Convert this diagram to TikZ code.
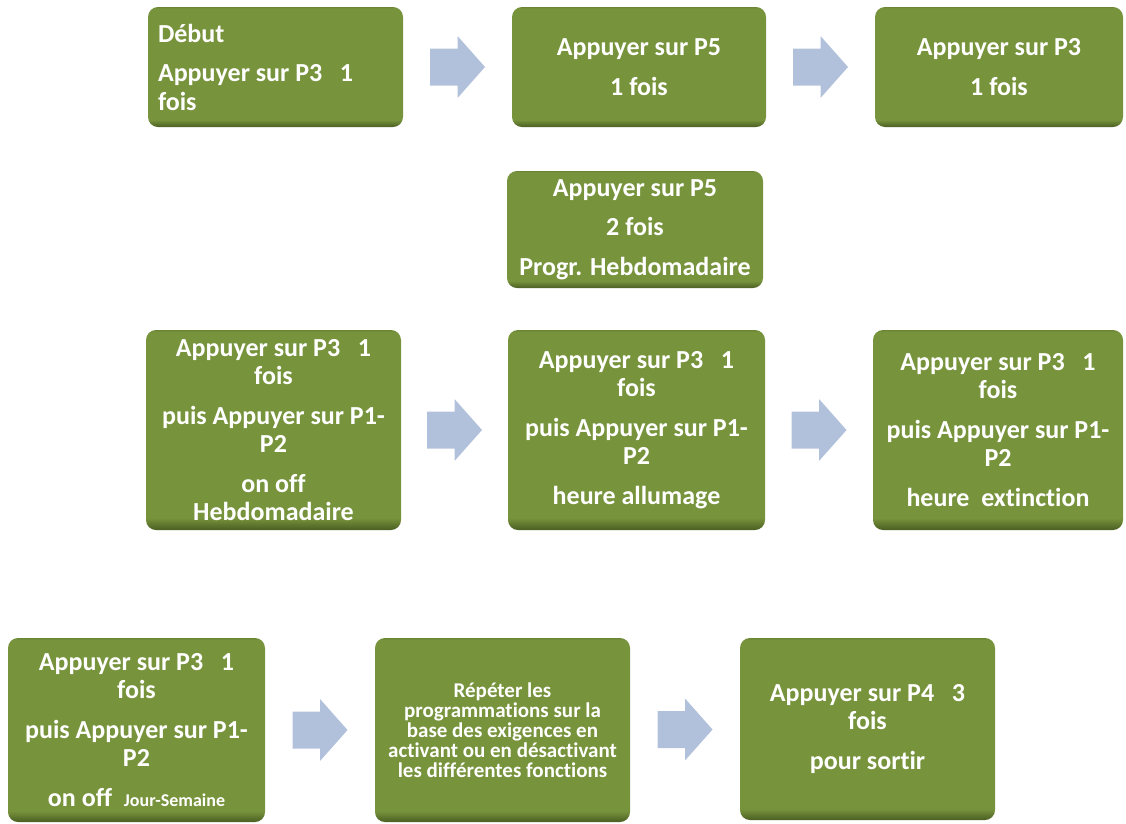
\documentclass[tikz,border=0pt]{standalone}
\usepackage{fontspec}
\setmainfont{Carlito}[Ligatures=NoCommon]
\usetikzlibrary{calc}
\definecolor{boxgreen}{HTML}{77933C}
\definecolor{boxdark}{HTML}{4A5E22}
\definecolor{boxtop}{HTML}{6B8535}
\definecolor{arrowblue}{HTML}{B2C1DB}
\pgfdeclareverticalshading{boxshade}{100bp}{color(0bp)=(boxdark); color(25bp)=(boxdark); color(28bp)=(boxgreen); color(74.5bp)=(boxgreen); color(75bp)=(boxtop); color(100bp)=(boxtop)}
\tikzset{
  stepbox/.style={rectangle, rounded corners=10pt, shading=boxshade, text=white,
    font=\fontsize{26}{28.5}\selectfont\bfseries, align=center, inner sep=0pt},
  smalltxt/.style={font=\fontsize{21}{20}\selectfont\bfseries},
  barrow/.pic={\fill[arrowblue] (-27.5,-18.5) -- (0,-18.5) -- (0,-31) -- (27.5,0) -- (0,31) -- (0,18.5) -- (-27.5,18.5) -- cycle;}
}
\newcommand{\gap}{\\[11pt]}
\begin{document}
\begin{tikzpicture}[x=1pt,y=-1pt]
\useasboundingbox (0,0) rectangle (1126,823);
% row 1
\node[stepbox, minimum width=255pt, minimum height=120pt, text width=235pt, align=flush left] (b1) at (275.5,67)
  {Début\gap Appuyer sur P3\ \ \ 1\\fois};
\node[stepbox, minimum width=254pt, minimum height=120pt] (b2) at (639,67)
  {Appuyer sur P5\gap 1 fois};
\node[stepbox, minimum width=248pt, minimum height=120pt] (b3) at (999,67)
  {Appuyer sur P3\gap 1 fois};
% row 2
\node[stepbox, minimum width=256pt, minimum height=117pt] (b4) at (635,229.5)
  {Appuyer sur P5\gap 2 fois\gap Progr. Hebdomadaire};
% row 3
\node[stepbox, minimum width=255pt, minimum height=200pt] (b5) at (273.5,430)
  {Appuyer sur P3\ \ \ 1\\fois\gap puis Appuyer sur P1-\\P2\gap on off\\Hebdomadaire};
\node[stepbox, minimum width=257pt, minimum height=200pt] (b6) at (636.5,430)
  {Appuyer sur P3\ \ \ 1\\fois\gap puis Appuyer sur P1-\\P2\gap heure allumage};
\node[stepbox, minimum width=250pt, minimum height=200pt] (b7) at (998,430)
  {Appuyer sur P3\ \ \ 1\\fois\gap puis Appuyer sur P1-\\P2\gap heure\ \ extinction};
% row 4
\node[stepbox, minimum width=257pt, minimum height=184pt] (b8) at (136.5,730)
  {Appuyer sur P3\ \ \ 1\\fois\gap puis Appuyer sur P1-\\P2\gap on off\ \ {\fontsize{18}{18}\selectfont Jour-Semaine}};
\node[stepbox, smalltxt, minimum width=255pt, minimum height=184pt] (b9) at (502.5,730)
  {Répéter les\\programmations sur la\\base des exigences en\\activant ou en désactivant\\les différentes fonctions};
\node[stepbox, minimum width=255pt, minimum height=182pt] (b10) at (867.5,729)
  {Appuyer sur P4\ \ \ 3\\fois\gap pour sortir};
% block arrows
\coordinate (a1) at ($(b1.east)!0.5!(b2.west)$);
\coordinate (a2) at ($(b2.east)!0.5!(b3.west)$);
\coordinate (a3) at ($(b5.east)!0.5!(b6.west)$);
\coordinate (a4) at ($(b6.east)!0.5!(b7.west)$);
\coordinate (a5) at ($(b8.east)!0.5!(b9.west)$);
\coordinate (a6) at ($(b9.east)!0.5!(b10.west)$);
\foreach \a in {a1,a2,a3,a4,a5,a6} \pic at (\a) {barrow};
\end{tikzpicture}
\end{document}
